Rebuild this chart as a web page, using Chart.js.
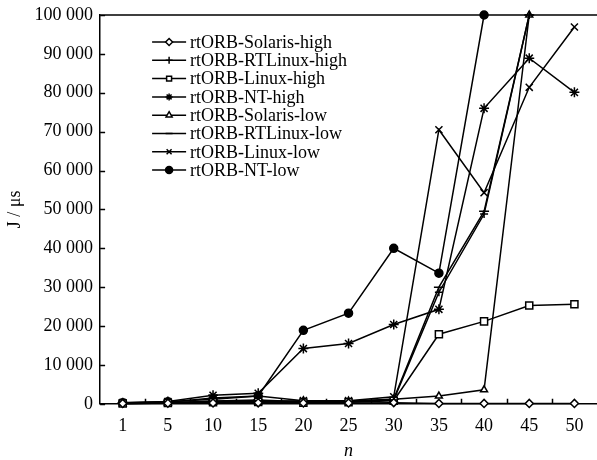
<!DOCTYPE html>
<html>
<head>
<meta charset="utf-8">
<script src="https://cdn.jsdelivr.net/npm/chart.js"></script>
<style>
  body { margin: 0; background: #fff; }
  #wrap { width: 597px; height: 460px; }
</style>
</head>
<body>
<div id="wrap"><canvas id="chart" width="597" height="460"></canvas></div>
<script>
// n values (x categories)
const categories = ['1', '5', '10', '15', '20', '25', '30', '35', '40', '45', '50'];

// J / µs
const solarisHigh = [100, 150, 200, 250, 200, 200, 300, 100, 100, 100, 100];
const rtlinuxHigh = [200, 300, 600, 800, 500, 500, 1000, 28700, 48800, 100000, null];
const linuxHigh   = [100, 200, 400, 500, 300, 400, 800, 17900, 21200, 25300, 25600];
const ntHigh      = [300, 600, 2200, 2700, 14200, 15500, 20400, 24300, 76000, 88900, 80100];
const solarisLow  = [0, 200, 400, 500, 800, 700, 1200, 2000, 3600, 100000, null];
const rtlinuxLow  = [200, 300, 700, 1000, 500, 600, 1200, 30000, 49500, 100000, null];
const linuxLow    = [200, 400, 1500, 2000, 800, 800, 1800, 70500, 54300, 81400, 96900];
const ntLow       = [300, 500, 1200, 2000, 18900, 23300, 40000, 33600, 100000, null, null];

const yTicks = { min: 0, max: 100000, step: 10000 };

const font = '"Liberation Serif", "Times New Roman", serif';

function series(label, data, style, fill, radius) {
  return {
    label: label,
    data: data,
    borderColor: '#000',
    borderWidth: 1.5,
    pointStyle: style,
    pointRadius: radius || 4,
    pointHoverRadius: radius || 4,
    pointBackgroundColor: fill,
    pointBorderColor: '#000',
    pointBorderWidth: 1.5,
    tension: 0,
    clip: 8
  };
}

const datasets = [
  series('rtORB-Solaris-high', solarisHigh, 'rectRot', '#fff'),
  series('rtORB-RTLinux-high', rtlinuxHigh, 'cross', '#000'),
  series('rtORB-Linux-high', linuxHigh, 'rect', '#fff', 5),
  series('rtORB-NT-high', ntHigh, 'star', '#000', 5),
  series('rtORB-Solaris-low', solarisLow, 'triangle', '#fff'),
  series('rtORB-RTLinux-low', rtlinuxLow, 'line', '#000', 5),
  series('rtORB-Linux-low', linuxLow, 'crossRot', '#000', 5),
  series('rtORB-NT-low', ntLow, 'circle', '#000')
];

// legend inside the plot, top frame line, inward tick marks
const insideLegend = {
  id: 'insideLegend',
  afterDatasetsDraw(chart) {
    const { ctx, chartArea, scales } = chart;
    ctx.save();
    ctx.strokeStyle = '#000';
    ctx.lineWidth = 1.5;
    ctx.beginPath();
    ctx.moveTo(chartArea.left, chartArea.top);
    ctx.lineTo(chartArea.right, chartArea.top);
    // y ticks pointing into the plot
    scales.y.ticks.forEach(t => {
      const py = Math.round(scales.y.getPixelForValue(t.value)) + 0.5;
      ctx.moveTo(chartArea.left, py);
      ctx.lineTo(chartArea.left + 5, py);
    });
    // x ticks between categories
    for (let i = 0; i < categories.length - 1; i++) {
      const px = Math.round((scales.x.getPixelForValue(i) + scales.x.getPixelForValue(i + 1)) / 2) + 0.5;
      ctx.moveTo(px, chartArea.bottom);
      ctx.lineTo(px, chartArea.bottom - 5);
    }
    ctx.stroke();

    ctx.font = '18px ' + font;
    ctx.textBaseline = 'middle';
    chart.data.datasets.forEach((ds, i) => {
      const x0 = chartArea.left + 52;
      const y = chartArea.top + 27 + i * 18.3;
      ctx.strokeStyle = '#000';
      ctx.lineWidth = 1.5;
      ctx.beginPath();
      ctx.moveTo(x0, y);
      ctx.lineTo(x0 + 34, y);
      ctx.stroke();
      ctx.fillStyle = ds.pointBackgroundColor;
      Chart.helpers.drawPoint(ctx, {
        pointStyle: ds.pointStyle,
        radius: 3.5,
        rotation: 0,
        borderWidth: 1.5
      }, x0 + 17, y);
      ctx.fillStyle = '#000';
      ctx.fillText(ds.label, x0 + 38, y + 1);
    });
    ctx.restore();
  }
};

new Chart(document.getElementById('chart'), {
  type: 'line',
  data: { labels: categories, datasets: datasets },
  options: {
    responsive: false,
    animation: false,
    layout: { autoPadding: false, padding: { top: 15, right: 0, left: 0, bottom: -2 } },
    plugins: {
      legend: { display: false },
      tooltip: { enabled: false }
    },
    scales: {
      x: {
        offset: true,
        afterFit: s => { s.paddingRight = 0; },
        grid: { drawOnChartArea: false, drawTicks: false },
        border: { color: '#000', width: 1.5 },
        ticks: { color: '#000', font: { family: font, size: 18 }, padding: 12, maxRotation: 0 },
        title: { display: true, text: 'n', color: '#000', font: { family: font, size: 18, style: 'italic' }, padding: { top: -9, bottom: 0 } }
      },
      y: {
        min: yTicks.min,
        max: yTicks.max,
        afterFit: s => { s.paddingTop = 0; },
        grid: { drawOnChartArea: false, drawTicks: false },
        border: { color: '#000', width: 1.5 },
        ticks: {
          stepSize: yTicks.step,
          color: '#000',
          padding: 7,
          font: { family: font, size: 18 },
          callback: v => String(v).replace(/\B(?=(\d{3})+(?!\d))/g, ' ')
        },
        title: { display: true, text: 'J / μs', color: '#000', font: { family: font, size: 18 }, padding: { bottom: 2 } }
      }
    }
  },
  plugins: [insideLegend]
});
</script>
</body>
</html>
